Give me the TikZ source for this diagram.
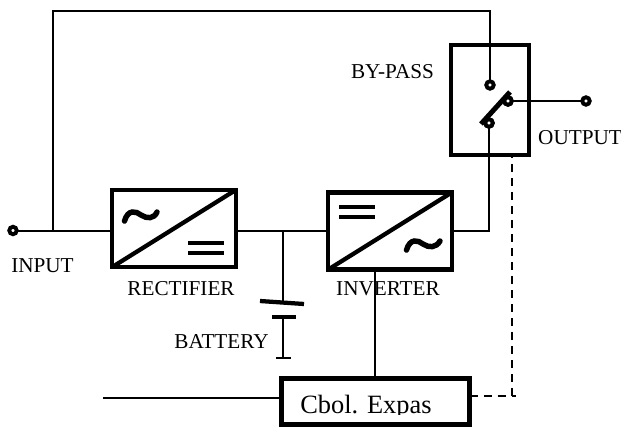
\documentclass[tikz,border=0pt]{standalone}
\usepackage{fontspec}
\setmainfont{Liberation Serif}
\tikzset{
  wire/.style={black,line width=1.5pt},
  dashwire/.style={black,line width=1.5pt,dash pattern=on 6pt off 4.5pt},
  block/.style={draw=black,fill=white,line width=3.4pt,inner sep=0pt,outer sep=0pt},
  terminal/.style={circle,draw=black,fill=white,line width=2.9pt,minimum size=5.6pt,inner sep=0pt,outer sep=0pt},
  symbol/.style={black,line width=3.2pt},
  wavy/.style={black,line width=4.1pt,line cap=round},
  caption/.style={font=\fontsize{15.9}{15.9}\selectfont,inner sep=0pt}
}
\begin{document}
\begin{tikzpicture}[x=0.75pt,y=-0.75pt]
            \useasboundingbox (0,0) rectangle (621,428);
            \node [block,minimum width=93pt,minimum height=58pt] (rectifier) at (174,228.5) {};
            \node [block,minimum width=93pt,minimum height=58pt] (inverter) at (390,231) {};
            \node [block,minimum width=58.5pt,minimum height=82.5pt] (bypass) at (490,100) {};
            \node [terminal] (input) at (13,230.5) {};
            \node [terminal] (output) at (586,101) {};
            \node [terminal] (swtop) at (490,85) {};
            \node [terminal] (swright) at (508,101) {};
            \node [terminal] (swlow) at (489,123) {};
            \coordinate (intap) at (53,230.5);
            \coordinate (topleft) at (53,11);
            \coordinate (topright) at (490,11);
            \coordinate (rectin) at (rectifier.west |- intap);
            \coordinate (rectout) at (rectifier.east |- 0,231);
            \coordinate (invin) at (inverter.west |- rectout);
            \coordinate (invout) at (inverter.east |- rectout);
            \coordinate (lowcorner) at (489,231);
            \coordinate (battop) at (283,231);
            \coordinate (platea) at (283,302.5);
            \coordinate (plateb) at (283,317);
            \coordinate (batend) at (283,358);
            \coordinate (invctl) at (375,272);
            \coordinate (ctlleft) at (103,398);
            \coordinate (blade) at (481,124);
            \coordinate (bladeend) at (510,92);
            \coordinate (dashup) at (512,157);
            \coordinate (dashcorner) at (512,395.5);
            \coordinate (dashend) at (516,395.5);
            \draw [symbol] (rectifier.south west) -- (rectifier.north east);
            \draw [symbol] (inverter.south west) -- (inverter.north east);
            \draw [symbol] (188,243) -- (224,243);
            \draw [symbol] (188,253) -- (224,253);
            \draw [symbol] (339,207) -- (375,207);
            \draw [symbol] (339,217) -- (375,217);
            \draw [wavy] (124.5,221) .. controls (128,209) and (136,211) .. (141,215) .. controls (147,219) and (154,219) .. (157,212);
            \draw [wavy] (406.5,250) .. controls (410,238) and (418,240) .. (423,244) .. controls (429,248) and (436,248) .. (440,241);
            \draw [wire] (input) -- (rectin);
            \draw [wire] (intap) -- (topleft) -- (topright) -- (swtop);
            \draw [wire] (rectout) -- (invin);
            \draw [wire] (invout) -- (lowcorner) -- (swlow);
            \draw [wire] (swright) -- (output);
            \draw [line width=3.75pt] (blade) -- (bladeend);
            \node [terminal] at (swlow) {};
            \node [terminal] at (swright) {};
            \draw [wire] (battop) -- (platea);
            \draw [symbol] (260,301) -- (304,304);
            \draw [symbol] (272,317) -- (296,317);
            \draw [wire] (plateb) -- (batend);
            \draw [black,line width=1.1pt] (276,358) -- (291,358);
            \begin{scope}
            \clip (279,377) rectangle (472,414);
            \node [font=\fontsize{19.8}{19.8}\selectfont,inner sep=0pt,anchor=base west] (cboltext) at (300,413) {Cbol. Expas};
            \end{scope}
            \node [block,fill=none,minimum width=141pt,minimum height=34.5pt] (cbol) at (375.5,401.5) {};
            \draw [wire] (ctlleft) -- (cbol.west |- ctlleft);
            \draw [dashwire] (cbol.east |- dashcorner) -- (dashend);
            \draw [dashwire] (dashcorner) -- (dashup);
            \node [caption] (inputlabel) at (42.5,265.5) {INPUT};
            \node [caption] (rectlabel) at (181,288.5) {RECTIFIER};
            \node [caption] (invlabel) at (388,288.5) {INVERTER};
            \node [caption] (batlabel) at (221.5,341.5) {BATTERY};
            \node [caption] (bypasslabel) at (392.5,71.5) {BY-PASS};
            \node [caption] (outputlabel) at (580,137.5) {OUTPUT};
            \draw [wire] (invctl) -- (cbol.north -| invctl);
            \end{tikzpicture}
\end{document}
